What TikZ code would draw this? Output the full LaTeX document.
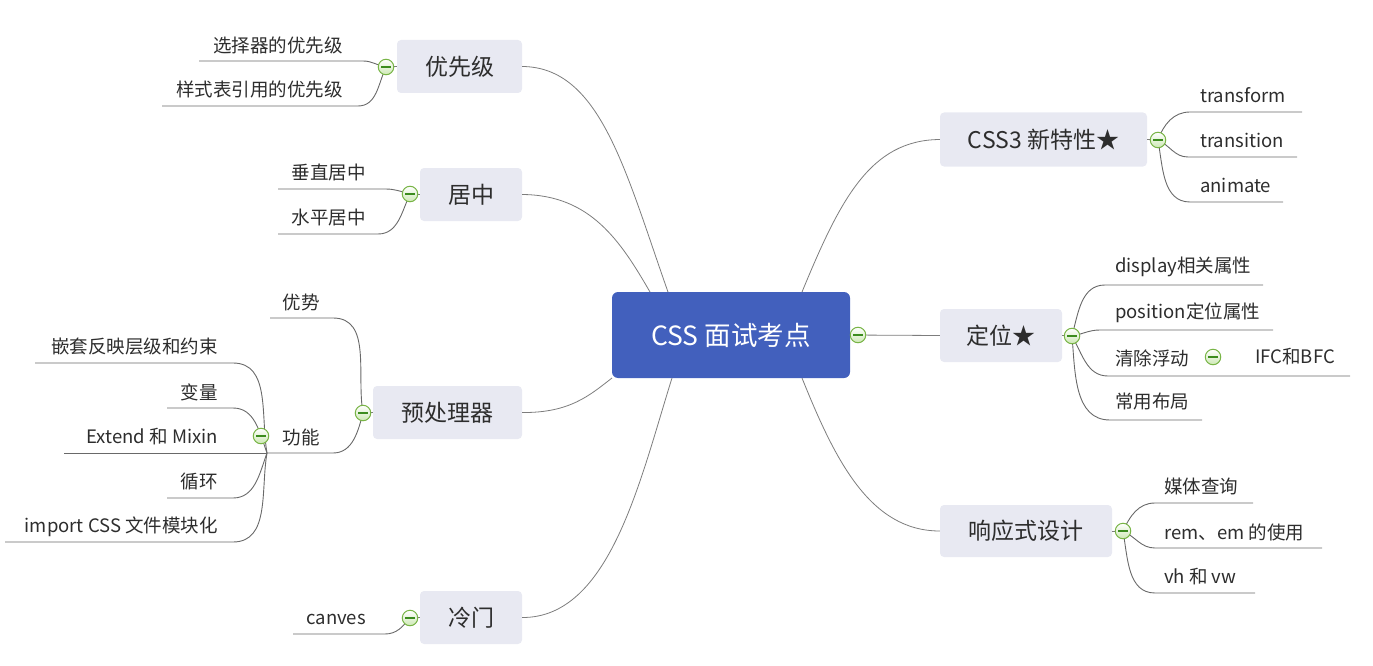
\documentclass[tikz,border=0pt]{standalone}
\usepackage{fontspec}
\setmainfont{Noto Sans CJK SC}
\definecolor{mainfill}{RGB}{232,233,242}
\definecolor{central}{RGB}{66,96,189}
\definecolor{txt}{RGB}{45,45,45}
\definecolor{linec}{RGB}{125,125,125}
\definecolor{ulc}{RGB}{105,105,105}
\definecolor{tgreen}{RGB}{120,180,70}
\definecolor{tfill}{RGB}{205,232,180}
\definecolor{tdark}{RGB}{60,140,30}
\begin{document}
\begin{tikzpicture}[x=1pt,y=-1pt,
  main/.style={fill=mainfill, rounded corners=4pt, text=txt, font=\fontsize{23}{28}\selectfont, inner sep=0pt, minimum height=53pt},
  leaf/.style={text=txt, font=\fontsize{18.5}{22}\selectfont, inner sep=0pt},
  conn/.style={draw=linec, line width=0.8pt},
  ul/.style={draw=ulc, line width=0.9pt},
  tog/.style={circle, draw=tgreen, line width=1pt, top color=white, bottom color=tfill, minimum size=15.5pt, inner sep=0pt,
    path picture={\draw[tdark,line width=1.2pt] ([xshift=-4.8pt]path picture bounding box.center) -- ([xshift=4.8pt]path picture bounding box.center);}}]
\useasboundingbox (0,0) rectangle (1373,666);

% central
\node[fill=central, rounded corners=6pt, text=white, font=\fontsize{26.5}{30}\selectfont, minimum width=238pt, minimum height=86pt, inner sep=0pt] (root) at (731,335) {CSS 面试考点};

% main topics
\node[main, minimum width=125pt] (p1) at (459.5,66.5) {优先级};
\node[main, minimum width=102pt] (p2) at (471,194.5) {居中};
\node[main, minimum width=149pt] (p3) at (447.5,412.5) {预处理器};
\node[main, minimum width=102pt] (p4) at (471,617.5) {冷门};
\node[main, minimum width=207pt, minimum height=54pt] (q1) at (1043.5,139.5) {CSS3 新特性★};
\node[main, minimum width=122pt] (q2) at (1001,335.5) {定位★};
\node[main, minimum width=172pt, minimum height=52pt] (q3) at (1026,531) {响应式设计};

% anchor points on root
\coordinate (r1) at (668,292);
\coordinate (r2) at (650,292);
\coordinate (r3) at (612,378);
\coordinate (r4) at (672,378);
\coordinate (r5) at (802,292);
\coordinate (r6) at (802,378);

\draw[conn] (p1.east) .. controls (600,67) and (625,170) .. (r1);
\draw[conn] (p2.east) .. controls (590,195) and (620,240) .. (r2);
\draw[conn] (p3.east) .. controls (570,413) and (590,395) .. (r3);
\draw[conn] (p4.east) .. controls (610,618) and (640,480) .. (r4);
\draw[conn] (q1.west) .. controls (870,140) and (840,200) .. (r5);
\draw[conn] (q3.west) .. controls (870,531) and (835,460) .. (r6);

% toggle positions
\coordinate (t0) at (858,335);
\coordinate (t1) at (386,67);
\coordinate (t2) at (410,194);
\coordinate (t3) at (363,413);
\coordinate (t4) at (261,436);
\coordinate (t5) at (410,618);
\coordinate (t6) at (1158,140);
\coordinate (t7) at (1072,336);
\coordinate (t8) at (1213,357);
\coordinate (t9) at (1123,531);
\coordinate (j) at (267,453);

\draw[conn] (root.east) -- (q2.west);
\draw[conn] (p1.west) -- (t1);
\draw[conn] (p2.west) -- (t2);
\draw[conn] (p3.west) -- (t3);
\draw[conn] (p4.west) -- (t5);
\draw[conn] (q1.east) -- (t6);
\draw[conn] (q2.east) -- (t7);
\draw[conn] (q3.east) -- (t9);

% 优先级 children
\node[leaf, anchor=east] (a1) at (343,45) {选择器的优先级};
\node[leaf, anchor=east] (a2) at (343,89) {样式表引用的优先级};
\draw[ul] (t1) .. controls (376,65) and (372,61) .. (363,61) -- (199,61);
\draw[ul] (t1) to[out=245,in=0] (358,106) -- (162,106);

% 居中 children
\node[leaf, anchor=east] (b1) at (366,172) {垂直居中};
\node[leaf, anchor=east] (b2) at (366,217) {水平居中};
\draw[ul] (t2) .. controls (399,191) and (395,189) .. (385,189) -- (278,189);
\draw[ul] (t2) to[out=245,in=0] (378,234) -- (278,234);

% 预处理器 children
\node[leaf, anchor=east] (c1) at (320,302) {优势};
\node[leaf, anchor=east] (c2) at (320,437) {功能};
\draw[ul] (t3) to[out=100,in=0] (333,318) -- (270,318);
\draw[ul] (t3) to[out=255,in=0] (333,453) -- (j);

% 功能 children
\node[leaf, anchor=east] (d1) at (218,347) {嵌套反映层级和约束};
\node[leaf, anchor=east] (d2) at (218,392) {变量};
\node[leaf, anchor=east] (d3) at (218,437) {Extend 和 Mixin};
\node[leaf, anchor=east] (d4) at (218,482) {循环};
\node[leaf, anchor=east] (d5) at (218,527) {import CSS 文件模块化};
\draw[ul] (j) to[out=100,in=0] (233,363) -- (35,363);
\draw[ul] (j) to[out=110,in=0] (233,408) -- (167,408);
\draw[ul] (j) -- (64,453);
\draw[ul] (j) to[out=250,in=0] (233,498) -- (167,498);
\draw[ul] (j) to[out=260,in=0] (233,542) -- (5,542);

% 冷门 child
\node[leaf, anchor=east] (e1) at (366,619) {canves};
\draw[ul] (t5) to[out=230,in=0] (385,634) -- (293,634);

% CSS3 children
\node[leaf, anchor=west] (f1) at (1200,95) {transform};
\node[leaf, anchor=west] (f2) at (1200,140) {transition};
\node[leaf, anchor=west] (f3) at (1200,185) {animate};
\draw[ul] (t6) to[out=70,in=180] (1190,112) -- (1302,112);
\draw[ul] (t6) to[out=-25,in=180] (1188,157) -- (1297,157);
\draw[ul] (t6) to[out=-80,in=180] (1190,202) -- (1283,202);

% 定位 children
\node[leaf, anchor=west] (g1) at (1115,267) {display相关属性};
\node[leaf, anchor=west] (g2) at (1115,313) {position定位属性};
\node[leaf, anchor=west] (g3) at (1115,358) {清除浮动};
\node[leaf, anchor=west] (g4) at (1115,402) {常用布局};
\node[leaf, anchor=west] (g5) at (1255,357) {IFC和BFC};
\draw[ul] (t7) to[out=75,in=180] (1105,285) -- (1263,285);
\draw[ul] (t7) to[out=10,in=180] (1100,330) -- (1273,330);
\draw[ul] (t7) to[out=-60,in=180] (1108,376) -- (1350,376);
\draw[ul] (t7) to[out=-85,in=180] (1110,420) -- (1202,420);

% 响应式 children
\node[leaf, anchor=west] (h1) at (1164,486) {媒体查询};
\node[leaf, anchor=west] (h2) at (1164,532) {rem、em 的使用};
\node[leaf, anchor=west] (h3) at (1164,577) {vh 和 vw};
\draw[ul] (t9) to[out=65,in=180] (1155,503) -- (1253,503);
\draw[ul] (t9) to[out=-25,in=180] (1155,548) -- (1322,548);
\draw[ul] (t9) to[out=-80,in=180] (1155,593) -- (1255,593);

% toggles on top
\foreach \t in {t0,t1,t2,t3,t4,t5,t6,t7,t8,t9}
  \node[tog] at (\t) {};
\end{tikzpicture}
\end{document}
